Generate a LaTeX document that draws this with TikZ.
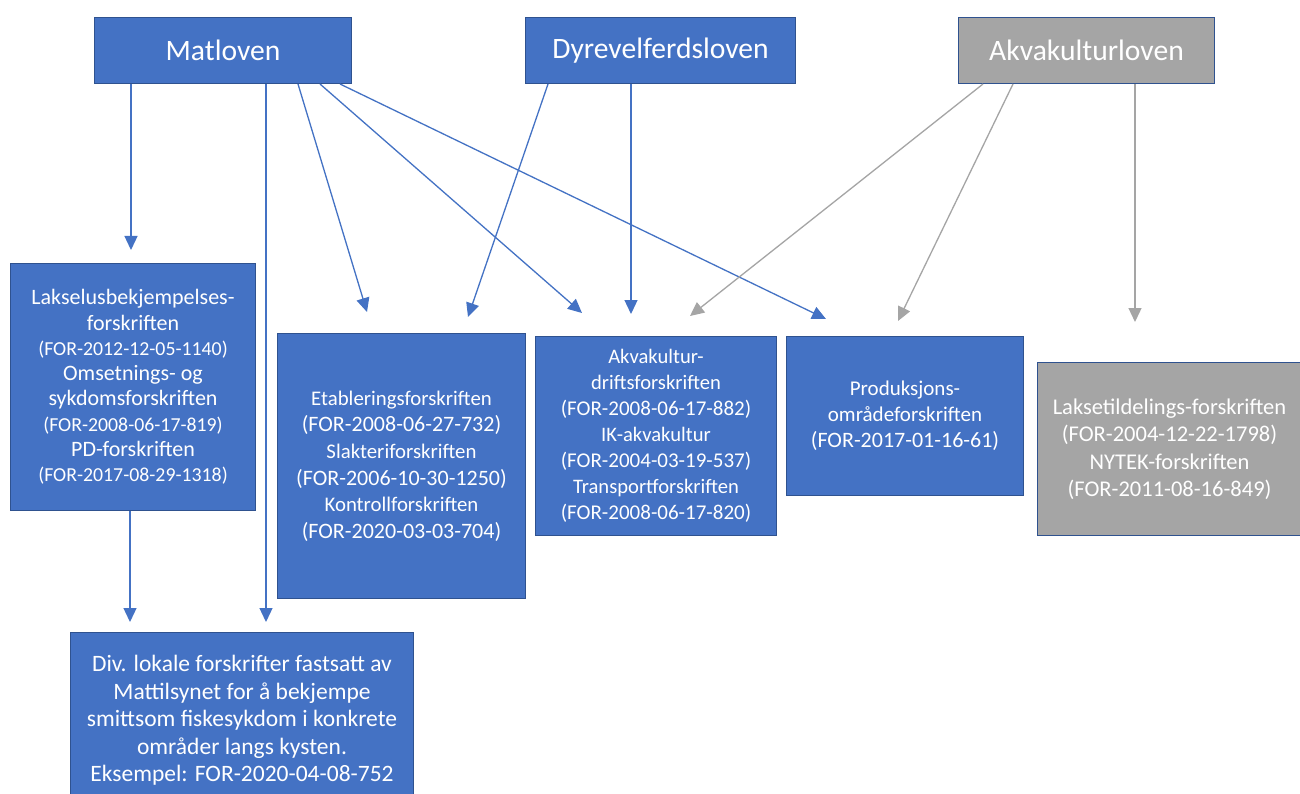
\documentclass[tikz,border=0pt]{standalone}
\usepackage{fontspec}
\setmainfont{Carlito}
\usetikzlibrary{arrows.meta}
\definecolor{boxblue}{HTML}{4472C4}
\definecolor{boxgray}{HTML}{A5A5A5}
\definecolor{bordercol}{HTML}{2F528F}
\definecolor{lineblue}{HTML}{4472C4}
\definecolor{linegray}{HTML}{A5A5A5}
\tikzset{
  lawbox/.style={draw=bordercol, line width=1pt, text=white, align=center, inner sep=0pt, anchor=north west},
  bluebox/.style={lawbox, fill=boxblue},
  graybox/.style={lawbox, fill=boxgray},
  title/.style={font=\fontsize{29.6}{34}\selectfont},
  barrow/.style={draw=lineblue, line width=1.3pt, -{Triangle[length=14pt,width=13pt]}},
  garrow/.style={draw=linegray, line width=1.3pt, -{Triangle[length=14pt,width=13pt]}},
}
\newcommand{\cd}[2]{{\fontsize{#1}{25}\selectfont #2}}
\begin{document}
\begin{tikzpicture}[x=1pt,y=-1pt]
\useasboundingbox (0,0) rectangle (1300,794);
\fill[white] (0,0) rectangle (1300,794);

% top laws
\node[bluebox, title, minimum width=257pt, minimum height=66pt] (mat) at (94,17) {Matloven};
\node[bluebox, title, minimum width=270pt, minimum height=66pt] (dyr) at (525,17) {Dyrevelferdsloven};
\node[graybox, title, minimum width=256pt, minimum height=66pt] (akv) at (958,17) {Akvakulturloven};

% regulations
\node[bluebox, font=\fontsize{22}{25.3}\selectfont, minimum width=245pt, minimum height=247pt] (lak) at (10,263)
  {Lakselusbekjempelses-\\forskriften\\\cd{19.8}{(FOR-2012-12-05-1140)}\\Omsetnings- og\\sykdomsforskriften\\\cd{19.8}{(FOR-2008-06-17-819)}\\PD-forskriften\\\cd{19.8}{(FOR-2017-08-29-1318)}};
\node[bluebox, font=\fontsize{20.8}{26.6}\selectfont, minimum width=248pt, minimum height=265pt] (eta) at (277,333)
  {Etableringsforskriften\\\cd{22}{(FOR-2008-06-27-732)}\\Slakteriforskriften\\\cd{22}{(FOR-2006-10-30-1250)}\\Kontrollforskriften\\\cd{22}{(FOR-2020-03-03-704)}};
\node[bluebox, font=\fontsize{20.6}{25.9}\selectfont, minimum width=241pt, minimum height=199pt] (dri) at (535,336)
  {Akvakultur-\\driftsforskriften\\\cd{21}{(FOR-2008-06-17-882)}\\IK-akvakultur\\\cd{21}{(FOR-2004-03-19-537)}\\Transportforskriften\\\cd{21}{(FOR-2008-06-17-820)}};
\node[bluebox, font=\fontsize{21}{26}\selectfont, minimum width=237pt, minimum height=159pt] (pro) at (786,336)
  {Produksjons-\\områdeforskriften\\\cd{22}{(FOR-2017-01-16-61)}};
\node[graybox, font=\fontsize{22.5}{27.5}\selectfont, minimum width=264pt, minimum height=173pt] (lat) at (1037,362)
  {Laksetildelings-forskriften\\(FOR-2004-12-22-1798)\\NYTEK-forskriften\\(FOR-2011-08-16-849)};
\node[bluebox, font=\fontsize{23.5}{27.5}\selectfont, minimum width=343pt, minimum height=176pt] (div) at (70,632)
  {Div. lokale forskrifter fastsatt av\\Mattilsynet for å bekjempe\\smittsom fiskesykdom i konkrete\\områder langs kysten.\\Eksempel: FOR-2020-04-08-752};

% arrow tips
\coordinate (t1) at (131,250);
\coordinate (t2) at (266,622);
\coordinate (t3) at (367,312);
\coordinate (t4) at (582,313);
\coordinate (t5) at (826,319);
\coordinate (t6) at (468,317);
\coordinate (t7) at (631,314);
\coordinate (t8) at (690,316);
\coordinate (t9) at (898,321);
\coordinate (t10) at (1135,322);
\coordinate (t11) at (130,622);

\draw[barrow] ([xshift=37pt]mat.south west) -- (t1);
\draw[barrow] ([xshift=172pt]mat.south west) -- (t2);
\draw[barrow] ([xshift=204pt]mat.south west) -- (t3);
\draw[barrow] ([xshift=226pt]mat.south west) -- (t4);
\draw[barrow] ([xshift=246pt]mat.south west) -- (t5);
\draw[barrow] ([xshift=23pt]dyr.south west) -- (t6);
\draw[barrow] ([xshift=106pt]dyr.south west) -- (t7);
\draw[garrow] ([xshift=25pt]akv.south west) -- (t8);
\draw[garrow] ([xshift=55pt]akv.south west) -- (t9);
\draw[garrow] ([xshift=177pt]akv.south west) -- (t10);
\draw[barrow] ([xshift=120pt]lak.south west) -- (t11);
\end{tikzpicture}
\end{document}
